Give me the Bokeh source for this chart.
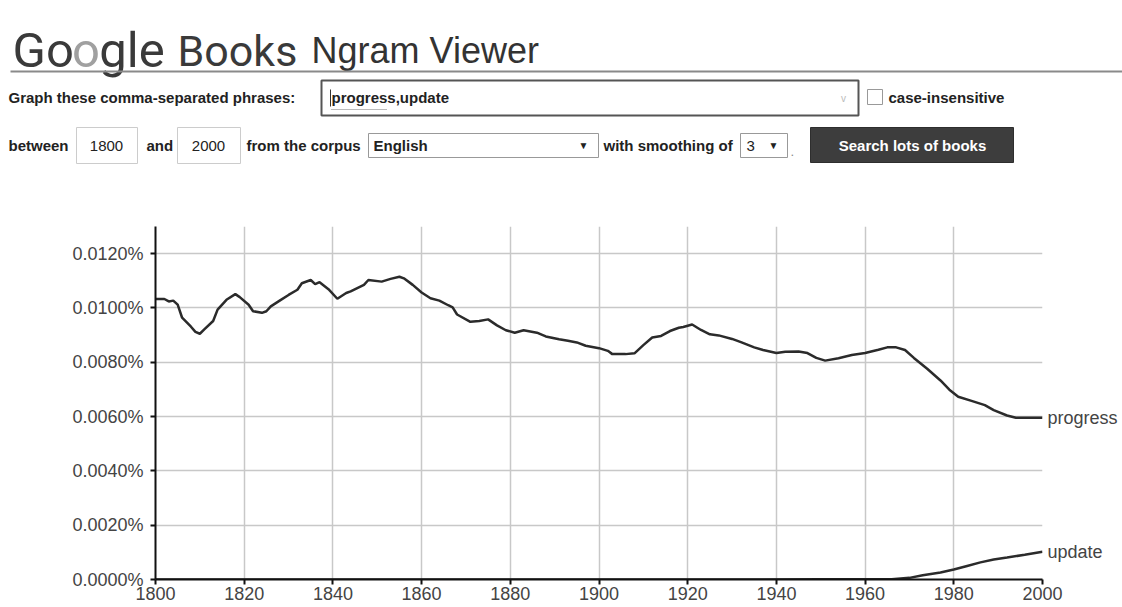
from bokeh.plotting import figure
from bokeh.models import (Range1d, FixedTicker, PrintfTickFormatter, LinearAxis,
                          ColumnDataSource)
from bokeh.embed import file_html
from bokeh.resources import INLINE
from bokeh.core.properties import value

# ---------------- data (percent of all words) ----------------
progress_years = [1800, 1802, 1803, 1804, 1805, 1806, 1808, 1809, 1810, 1811, 1813, 1814, 1816,
                  1818, 1819, 1821, 1822, 1824, 1825, 1826, 1828, 1830, 1832, 1833, 1835, 1836,
                  1837, 1839, 1841, 1843, 1844, 1847, 1848, 1851, 1853, 1855, 1856, 1858, 1860,
                  1862, 1864, 1866, 1867, 1868, 1871, 1873, 1875, 1877, 1879, 1881, 1883, 1886,
                  1888, 1891, 1893, 1895, 1897, 1900, 1902, 1903, 1906, 1908, 1910, 1912, 1914,
                  1916, 1918, 1919, 1921, 1923, 1925, 1927, 1930, 1932, 1935, 1937, 1940, 1942,
                  1945, 1947, 1949, 1951, 1954, 1957, 1960, 1963, 1965, 1967, 1969, 1971, 1974,
                  1977, 1979, 1981, 1984, 1987, 1989, 1992, 1994, 1997, 2000]
progress_values = [0.01033, 0.01033, 0.01024, 0.01027, 0.01012, 0.00964, 0.00931, 0.00912, 0.00905,
                   0.00921, 0.00952, 0.00994, 0.01030, 0.01051, 0.01040, 0.01012, 0.00988, 0.00982,
                   0.00988, 0.01006, 0.01027, 0.01048, 0.01067, 0.01091, 0.01103, 0.01088, 0.01095,
                   0.01069, 0.01034, 0.01055, 0.01061, 0.01085, 0.01103, 0.01097, 0.01107, 0.01115,
                   0.01109, 0.01085, 0.01057, 0.01036, 0.01027, 0.01010, 0.01002, 0.00976, 0.00949,
                   0.00952, 0.00958, 0.00936, 0.00918, 0.00909, 0.00918, 0.00909, 0.00895, 0.00885,
                   0.00879, 0.00873, 0.00861, 0.00852, 0.00842, 0.00830, 0.00830, 0.00833, 0.00863,
                   0.00891, 0.00897, 0.00915, 0.00927, 0.00930, 0.00939, 0.00919, 0.00903, 0.00899,
                   0.00886, 0.00874, 0.00855, 0.00845, 0.00834, 0.00839, 0.00840, 0.00834, 0.00816,
                   0.00806, 0.00815, 0.00827, 0.00834, 0.00846, 0.00855, 0.00855, 0.00845, 0.00816,
                   0.00776, 0.00733, 0.00699, 0.00673, 0.00658, 0.00642, 0.00624, 0.00604, 0.00596,
                   0.00596, 0.00596]

update_years = [1800, 1850, 1900, 1950, 1960, 1966, 1970, 1973, 1977, 1980, 1983, 1986, 1989,
                1992, 1996, 2000]
update_values = [0.000002, 0.000002, 0.000003, 0.000005, 0.000008, 0.00001, 0.00006, 0.00016,
                 0.00026, 0.00037, 0.00050, 0.00063, 0.00074, 0.00081, 0.00091, 0.00102]

series_names = ["progress", "update"]
x_ticks = [1800, 1820, 1840, 1860, 1880, 1900, 1920, 1940, 1960, 1980, 2000]
y_ticks = [0.0, 0.002, 0.004, 0.006, 0.008, 0.010, 0.012]

FONT = "Liberation Sans"
TXT = "#222222"
W = 1122
HH = 200                  # header height

# ---------------- header (query form) ----------------
header = figure(width=W, height=HH, x_range=Range1d(0, W), y_range=Range1d(HH, 0),
                x_axis_location=None, y_axis_location=None, toolbar_location=None,
                output_backend="svg", min_border=0, outline_line_color=None)
header.grid.visible = False

def txt(x, y, s, size="15px", style="bold", color=TXT, align="left", font=FONT,
        baseline="middle"):
    header.text(x=[x], y=[y], text=[s], text_font=value(font), text_font_size=size,
                text_font_style=style, text_color=color, text_align=align,
                text_baseline=baseline)

# logo: "Go" + light "o" + "gle", then "Books"
logo_parts = ["Go", "o", "gle"]
logo_x = [12, 71.5, 98.8]
logo_colors = ["#3a3a3a", "#a0a0a0", "#3a3a3a"]
for part, lx, col in zip(logo_parts, logo_x, logo_colors):
    txt(lx, 50, part, size="49px", style="normal", color=col, font="Roboto",
        baseline="alphabetic")
txt(177, 50, "Books", size="43px", style="normal", color="#3a3a3a", font="Roboto",
    baseline="alphabetic")
txt(311, 50, "Ngram Viewer", size="36px", style="normal", color="#333333",
    baseline="alphabetic")
header.segment(x0=[10], y0=[71], x1=[W], y1=[71], line_color="#8a8a8a", line_width=2)

# row 1
txt(8, 97, "Graph these comma-separated phrases:")
header.quad(left=[321], right=[858], top=[80], bottom=[115], fill_color="white",
            line_color="#555555", line_width=2)
txt(331, 97, "progress,update")
header.segment(x0=[330], y0=[89], x1=[330], y1=[106], line_color="#333333", line_width=1)
header.segment(x0=[331], y0=[109], x1=[386], y1=[109], line_color="#777777",
               line_width=1, line_dash="1 1")
txt(843, 98, "v", size="10px", style="normal", color="#bbbbbb", align="center")
header.quad(left=[867], right=[882], top=[89], bottom=[104], fill_color="white",
            line_color="#999999", line_width=1)
txt(888, 97, "case-insensitive")

# row 2
txt(8, 145, "between")
header.quad(left=[76], right=[137], top=[127], bottom=[163], fill_color="white",
            line_color="#cccccc", line_width=1)
txt(106, 145, "1800", style="normal", align="center")
txt(146, 145, "and")
header.quad(left=[177], right=[240], top=[127], bottom=[163], fill_color="white",
            line_color="#cccccc", line_width=1)
txt(208, 145, "2000", style="normal", align="center")
txt(246, 145, "from the corpus")
header.quad(left=[368], right=[598], top=[133], bottom=[157], fill_color="white",
            line_color="#999999", line_width=1)
txt(373, 145, "English")
txt(583, 145, "\u25BC", size="10px", style="normal", align="center")
txt(603, 145, "with smoothing of")
header.quad(left=[740], right=[787], top=[133], bottom=[157], fill_color="white",
            line_color="#999999", line_width=1)
txt(746, 145, "3", style="normal")
txt(773, 145, "\u25BC", size="10px", style="normal", align="center")
txt(790, 151, ".", size="13px", style="normal", color="#888888")
header.quad(left=[810], right=[1013], top=[127], bottom=[162], fill_color="#3d3d3d",
            line_color="#2e2e2e", line_width=1)
txt(912, 145, "Search lots of books", size="15px", color="white", align="center")

# ---------------- chart ----------------
chart = figure(width=W, height=607 - HH, x_range=Range1d(1800, 2000),
               y_range=Range1d(0, 0.013), toolbar_location=None, output_backend="svg",
               outline_line_color=None, min_border_left=155, min_border_right=80,
               min_border_top=26, min_border_bottom=28)

src_p = ColumnDataSource(dict(x=progress_years, y=progress_values))
src_u = ColumnDataSource(dict(x=update_years, y=update_values))
chart.line("x", "y", source=src_p, line_color="#2b2b2b", line_width=2.5)
chart.line("x", "y", source=src_u, line_color="#2b2b2b", line_width=2.5)

chart.xaxis.ticker = FixedTicker(ticks=x_ticks)
chart.yaxis.ticker = FixedTicker(ticks=y_ticks)
chart.yaxis.formatter = PrintfTickFormatter(format="%.4f%%")

for ax in (chart.xaxis[0], chart.yaxis[0]):
    ax.axis_line_color = "#111111"
    ax.axis_line_width = 2
    ax.major_tick_line_color = "#111111"
    ax.major_tick_line_width = 2
    ax.major_tick_in = 0
    ax.minor_tick_line_color = None
    ax.major_label_text_font = FONT
    ax.major_label_text_color = "#444444"

chart.yaxis.major_tick_out = 5
chart.yaxis.major_label_standoff = 7
chart.yaxis.major_label_text_font_size = "18px"
chart.xaxis.major_tick_out = 5
chart.xaxis.major_label_standoff = 2
chart.xaxis.major_label_text_font_size = "18px"

chart.grid.grid_line_color = "#c8c8c8"
chart.grid.grid_line_width = 1.5

# series name labels at the line ends, drawn by an unlined right-hand axis
end_values = [progress_values[-1], update_values[-1]]
name_axis = LinearAxis(ticker=FixedTicker(ticks=end_values),
                       major_label_overrides=dict(zip(end_values, series_names)),
                       axis_line_color=None, major_tick_line_color=None,
                       minor_tick_line_color=None, major_tick_in=0, major_tick_out=0,
                       major_label_standoff=5, major_label_text_font=FONT,
                       major_label_text_font_size="18px", major_label_text_color="#444444")
chart.add_layout(name_axis, "right")

open("out.html", "w").write(file_html([header, chart], INLINE))
